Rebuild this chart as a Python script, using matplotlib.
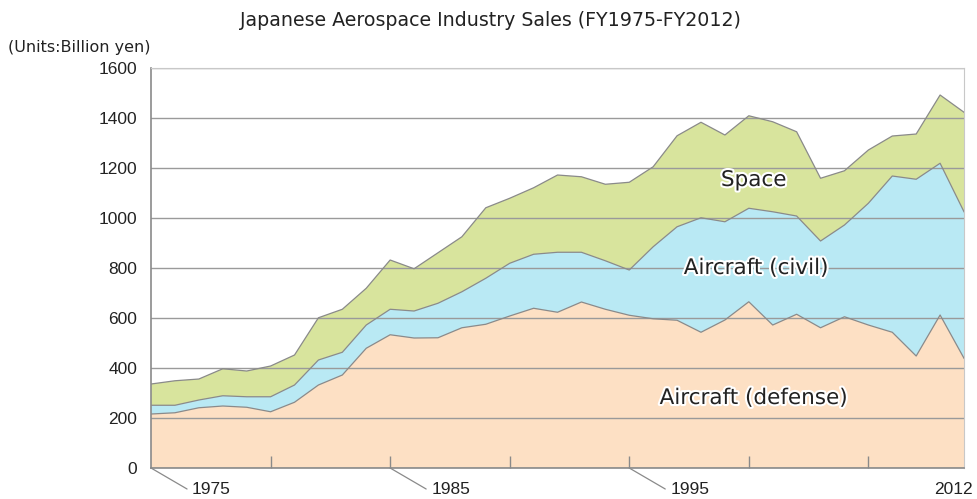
"""
Japanese aerospace industry sales, stacked area chart
"""

import matplotlib.pyplot as plt
import matplotlib.patheffects as pe
import numpy

# Fiscal-year points as drawn on the chart (35 points)
year_index = list(range(35))
tick_labels = {0: "1975", 10: "1985", 20: "1995", 34: "2012"}
minor_ticks = [5, 10, 15, 20, 25, 30]

# Billion yen
defense = [216, 221, 241, 248, 243, 225, 263, 332, 372, 479, 533, 520, 521, 561, 575,
           608, 639, 623, 664, 635, 611, 597, 591, 543, 592, 665, 572, 615, 561, 605,
           572, 543, 448, 612, 439]
civil = [35, 30, 31, 41, 42, 60, 69, 100, 91, 93, 102, 108, 138, 144, 184,
         211, 216, 240, 199, 194, 181, 288, 374, 458, 393, 374, 453, 393, 347, 367,
         487, 625, 707, 607, 586]
space = [85, 98, 84, 108, 103, 123, 120, 169, 172, 147, 197, 169, 202, 220, 282,
         260, 266, 309, 302, 306, 351, 320, 364, 382, 347, 370, 360, 337, 251, 217,
         213, 160, 181, 273, 398]

series_names = ["Aircraft (defense)", "Aircraft (civil)", "Space"]
colors = ["#fde0c4", "#b9e9f4", "#d8e49d"]
label_spots = [(25.2, 280), (25.3, 800), (25.2, 1152)]

DIGIT_FONT = ["Liberation Sans", "DejaVu Sans"]
WIDE_FONT = ["DejaVu Sans"]
TEXT_COLOR = "#222222"


def main():
    fig = plt.figure(figsize=(9.77, 4.99), dpi=100)
    ax = fig.add_axes([0.1546, 0.0621, 0.8321, 0.8016])

    x = numpy.array(year_index)
    base = numpy.zeros(len(x))
    for vals, color in zip([defense, civil, space], colors):
        top = base + numpy.array(vals)
        ax.fill_between(x, base, top, facecolor=color, edgecolor="none", zorder=1)
        ax.plot(x, top, color="#8a8a8a", lw=0.9, zorder=3)
        base = top

    ax.set_xlim(0, 34)
    ax.set_ylim(0, 1600)
    ax.set_yticks(range(0, 1601, 200))
    ax.yaxis.grid(True, color="#9a9a9a", lw=1.0)
    for gl in ax.get_ygridlines():
        gl.set_zorder(2)

    for side in ["top", "right"]:
        ax.spines[side].set_color("#c8c8c8")
    for side in ["left", "bottom"]:
        ax.spines[side].set_color("#8a8a8a")
        ax.spines[side].set_linewidth(1.2)
    ax.tick_params(axis="y", length=0, pad=10, labelsize=12.5, labelcolor=TEXT_COLOR)
    for lab in ax.get_yticklabels():
        lab.set_family(DIGIT_FONT)

    ax.set_xticks(minor_ticks)
    ax.set_xticklabels([])
    ax.tick_params(axis="x", direction="in", length=9, color="#8a8a8a", width=1)

    # Year labels with leader lines
    for idx, text in tick_labels.items():
        if idx == 34:
            ax.annotate(text, xy=(idx, 0), xytext=(9, -21), textcoords="offset pixels",
                        ha="right", va="center", fontsize=12.5, family=DIGIT_FONT,
                        color=TEXT_COLOR, annotation_clip=False)
            continue
        ax.annotate("", xy=(idx, 0), xytext=(36, -21), textcoords="offset pixels",
                    arrowprops=dict(arrowstyle="-", color="#8a8a8a", lw=0.9,
                                    shrinkA=0, shrinkB=0),
                    annotation_clip=False)
        ax.annotate(text, xy=(idx, 0), xytext=(41, -21), textcoords="offset pixels",
                    ha="left", va="center", fontsize=12.5, family=DIGIT_FONT,
                    color=TEXT_COLOR, annotation_clip=False)

    # Series labels inside the areas
    for name, (lx, ly) in zip(series_names, label_spots):
        ax.text(lx, ly, name, ha="center", va="center", fontsize=15.5, family=WIDE_FONT,
                color=TEXT_COLOR, zorder=5,
                path_effects=[pe.withStroke(linewidth=3, foreground="white")])

    fig.text(0.502, 0.958, "Japanese Aerospace Industry Sales (FY1975-FY2012)",
             ha="center", va="center", fontsize=13.7, family=WIDE_FONT, color=TEXT_COLOR)
    fig.text(0.008, 0.905, "(Units:Billion yen)", ha="left", va="center",
             fontsize=11.5, family=WIDE_FONT, color=TEXT_COLOR)

    fig.savefig("out.png", dpi=100)
    plt.close(fig)


if __name__ == "__main__":
    main()
